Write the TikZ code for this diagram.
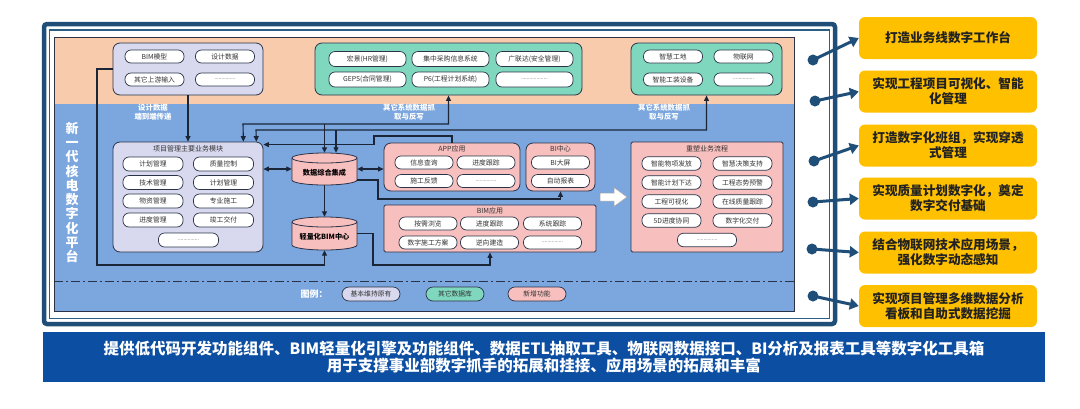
\documentclass[tikz,border=0pt]{standalone}
\usepackage{fontspec}
\setmainfont{Noto Sans CJK SC}
\usetikzlibrary{arrows.meta}
\definecolor{navy}{HTML}{1F4E79}
\definecolor{framec}{HTML}{2B5F86}
\definecolor{peach}{HTML}{F8CBAD}
\definecolor{bluep}{HTML}{7BA6DE}
\definecolor{lav}{HTML}{D8D9EF}
\definecolor{tealc}{HTML}{7FD8BE}
\definecolor{pinkc}{HTML}{F8BFBF}
\definecolor{edgec}{HTML}{2A3347}
\definecolor{txtc}{HTML}{333333}
\definecolor{connc}{HTML}{1A2538}
\definecolor{ybg}{HTML}{FFC000}
\definecolor{ytxt}{HTML}{222222}
\definecolor{bannerc}{HTML}{0B4EA2}
\begin{document}
\begin{tikzpicture}[x=1pt,y=-1pt,
 >={Triangle[length=5.5pt,width=5pt]},
 pill/.style={draw=edgec, fill=white, rounded corners=6pt, minimum width=59pt, minimum height=13pt, inner sep=0pt, line width=0.7pt, font=\fontsize{6.8}{8}\selectfont, text=txtc},
 dotpill/.style={pill, font=\fontsize{5}{6}\selectfont},
 grp/.style={draw=edgec, line width=0.8pt, rounded corners=7pt, inner sep=0pt},
 sqgrp/.style={draw=edgec, line width=0.8pt, rounded corners=1.5pt, inner sep=0pt},
 ttl/.style={font=\fontsize{7}{8}\selectfont, text=txtc, inner sep=0pt},
 wlab/.style={font=\bfseries\fontsize{7.4}{9.5}\selectfont, text=white, align=center, inner sep=0pt},
 cyltxt/.style={font=\bfseries\fontsize{7.2}{8}\selectfont, text=black, inner sep=0pt},
 conn/.style={draw=connc, line width=1.1pt},
 ybox/.style={fill=ybg, rounded corners=6pt, minimum width=178pt, minimum height=42pt, inner sep=0pt, align=center, font=\bfseries\fontsize{12.6}{15}\selectfont, text=ytxt},
 ydot/.style={circle, fill=navy, minimum size=11pt, inner sep=0pt},
 yarr/.style={draw=navy, line width=3pt, -{Triangle[length=9pt,width=11pt]}},
 cylb/.style={draw=edgec, line width=0.8pt},
]
\fill[white] (0,0) rectangle (1080,408);
\useasboundingbox (0,0) rectangle (1080,408);

% frame
\draw[navy, line width=4.5pt, rounded corners=3pt] (44,24) rectangle (835,324);
\draw[framec, line width=1.3pt] (49.5,30) rectangle (829.5,318.5);
\fill[peach] (54,37) rectangle (794,104);
\fill[bluep] (54,104) rectangle (794,311);
\draw[edgec, line width=0.6pt] (54,37) rectangle (794,311);
\draw[edgec, line width=0.8pt, dash pattern=on 9pt off 3pt on 2pt off 3pt] (54,281) -- (794,281);

% vertical title
\node[align=center, font=\bfseries\fontsize{13}{14.3}\selectfont, text=white, inner sep=0pt] (vt) at (72,192.5) {新\\一\\代\\核\\电\\数\\字\\化\\平\\台};

% top groups
\node[grp, fill=lav, minimum width=150pt, minimum height=52pt] (up) at (188,69) {};
\node[pill] (u1) at (154.5,56.5) {BIM模型};
\node[pill] (u2) at (225,56.5) {设计数据};
\node[pill] (u3) at (154.5,79.5) {其它上游输入};
\node[dotpill] (u4) at (225,79.5) {...............};

\node[grp, fill=tealc, minimum width=267pt, minimum height=52pt] (mid) at (448.5,69) {};
\node[pill, minimum width=77pt, minimum height=15pt] (m1) at (367.5,59) {宏景(HR管理)};
\node[pill, minimum width=77pt, minimum height=15pt] (m2) at (450.5,59) {集中采购信息系统};
\node[pill, minimum width=77pt, minimum height=15pt] (m3) at (534.5,59) {广联达(安全管理)};
\node[pill, minimum width=77pt, minimum height=15pt] (m4) at (367.5,79.5) {GEPS(合同管理)};
\node[pill, minimum width=77pt, minimum height=15pt] (m5) at (450.5,79.5) {P6(工程计划系统)};
\node[dotpill, minimum width=77pt, minimum height=15pt] (m6) at (534.5,79.5) {...................};

\node[grp, fill=tealc, minimum width=151pt, minimum height=52pt] (rt) at (706.5,69) {};
\node[pill] (r1) at (673,56.5) {智慧工地};
\node[pill] (r2) at (743.5,56.5) {物联网};
\node[pill] (r3) at (673,79.5) {智能工装设备};
\node[dotpill] (r4) at (743.5,79.5) {...............};

% white labels
\node[wlab] (l1) at (153,112) {设计数据\\端到端传递};
\node[wlab] (l2) at (409,112) {其它系统数据抓\\取与反写};
\node[wlab] (l3) at (664,112) {其它系统数据抓\\取与反写};

% project management module
\node[grp, fill=lav, minimum width=150pt, minimum height=110pt] (pm) at (188,197) {};
\node[ttl] (pmt) at (188,148.5) {项目管理主要业务模块};
\node[pill, minimum width=60pt, minimum height=14pt] (p1) at (153,164) {计划管理};
\node[pill, minimum width=60pt, minimum height=14pt] (p2) at (223.5,164) {质量控制};
\node[pill, minimum width=60pt, minimum height=14pt] (p3) at (153,182.5) {技术管理};
\node[pill, minimum width=60pt, minimum height=14pt] (p4) at (223.5,182.5) {计划管理};
\node[pill, minimum width=60pt, minimum height=14pt] (p5) at (153,201) {物资管理};
\node[pill, minimum width=60pt, minimum height=14pt] (p6) at (223.5,201) {专业施工};
\node[pill, minimum width=60pt, minimum height=14pt] (p7) at (153,220) {进度管理};
\node[pill, minimum width=60pt, minimum height=14pt] (p8) at (223.5,220) {竣工交付};
\node[dotpill, minimum width=60pt, minimum height=14pt] (p9) at (188.5,240) {...............};

% cylinders
\fill[pinkc] (292,158) rectangle (357,180);
\fill[pinkc] (324.5,180) ellipse[x radius=32.5pt, y radius=5pt];
\draw[cylb] (292,158) -- (292,180) arc[start angle=180, end angle=360, x radius=32.5pt, y radius=5pt] -- (357,158);
\draw[cylb, fill=pinkc] (324.5,158) ellipse[x radius=32.5pt, y radius=5pt];
\node[minimum width=65pt, minimum height=32pt, inner sep=0pt] (db) at (324.5,169) {};
\node[cyltxt] (dbt) at (324.5,173) {数据综合集成};

\fill[pinkc] (292,222) rectangle (357,245);
\fill[pinkc] (324.5,245) ellipse[x radius=32.5pt, y radius=5pt];
\draw[cylb] (292,222) -- (292,245) arc[start angle=180, end angle=360, x radius=32.5pt, y radius=5pt] -- (357,222);
\draw[cylb, fill=pinkc] (324.5,222) ellipse[x radius=32.5pt, y radius=5pt];
\node[minimum width=65pt, minimum height=33pt, inner sep=0pt] (bimc) at (324.5,233.5) {};
\node[cyltxt] (bimct) at (324.5,237) {轻量化BIM中心};

% APP / BI
\node[grp, fill=pinkc, minimum width=136pt, minimum height=48pt] (app) at (452,167) {};
\node[ttl] (appt) at (452,149) {APP应用};
\node[pill, minimum width=58pt] (a1) at (424,162.5) {信息查询};
\node[pill, minimum width=58pt] (a2) at (486,162.5) {进度跟踪};
\node[pill, minimum width=58pt] (a3) at (424,181) {施工反馈};
\node[dotpill, minimum width=58pt] (a4) at (486,181) {...............};

\node[grp, fill=pinkc, minimum width=69pt, minimum height=48pt] (bi) at (560.5,167) {};
\node[ttl] (bit) at (560.5,149) {BI中心};
\node[pill, minimum width=58pt] (b1) at (560.5,162.5) {BI大屏};
\node[pill, minimum width=58pt] (b2) at (560.5,181) {自动报表};

% BIM app
\node[sqgrp, fill=pinkc, minimum width=212pt, minimum height=47pt] (bimapp) at (490,228.5) {};
\node[ttl] (bimappt) at (490,210.5) {BIM应用};
\node[pill, minimum width=58pt] (c1) at (428,223.5) {按需浏览};
\node[pill, minimum width=58pt] (c2) at (489.5,223.5) {进度跟踪};
\node[pill, minimum width=58pt] (c3) at (552.5,223.5) {系统跟踪};
\node[pill, minimum width=58pt] (c4) at (428,242.5) {数字施工方案};
\node[pill, minimum width=58pt] (c5) at (489.5,242.5) {逆向建造};
\node[dotpill, minimum width=58pt] (c6) at (552.5,242.5) {...............};

% flow
\node[sqgrp, fill=pinkc, minimum width=152pt, minimum height=110pt] (flow) at (707,197) {};
\node[ttl] (flowt) at (707,149) {重塑业务流程};
\node[pill, minimum height=13.5pt] (f1) at (671.5,163.5) {智能物项发放};
\node[pill, minimum height=13.5pt] (f2) at (742.5,163.5) {智慧决策支持};
\node[pill, minimum height=13.5pt] (f3) at (671.5,182.5) {智能计划下达};
\node[pill, minimum height=13.5pt] (f4) at (742.5,182.5) {工程态势预警};
\node[pill, minimum height=13.5pt] (f5) at (671.5,201.5) {工程可视化};
\node[pill, minimum height=13.5pt] (f6) at (742.5,201.5) {在线质量跟踪};
\node[pill, minimum height=13.5pt] (f7) at (671.5,220.5) {5D进度协同};
\node[pill, minimum height=13.5pt] (f8) at (742.5,220.5) {数字化交付};
\node[dotpill, minimum height=13.5pt] (f9) at (707,240) {...............};

% white block arrow
\draw[fill=white, draw=gray!70, line width=0.5pt] (600,193) -- (614,193) -- (614,187.5) -- (627,197) -- (614,206.5) -- (614,201) -- (600,201) -- cycle;

% connectors
\draw[conn,->] (up.south) -- (pm.north);
\draw[conn,->] (up.west) -| (97,265) -| (bimc.south);
\draw[conn,<->] (mid.south) |- (243,124) -- ([xshift=-20pt]pm.north east);
\draw[conn,->] (324.5,124) -- (db.north);
\draw[conn,<->] (rt.south) |- (256,130) -- ([xshift=-7pt]pm.north east);
\draw[conn,->] (336,130) -- ([xshift=11.5pt]db.north);
\draw[conn,->] (app.north) |- (374,136) |- ([yshift=-3pt]pm.north east);
\draw[conn,<->] (db.west) -- (db.west -| pm.east);
\draw[conn,<->] (db.east) -- (db.east -| app.west);
\draw[conn,->] (db.south) -- (bimc.north);
\draw[conn,->] ([yshift=-11pt]db.east) -| (378,199) -| (bi.south);
\draw[conn,->] (bimc.east) -| (373,265) -| (bimapp.south);

% legend
\node[wlab, font=\bfseries\fontsize{9}{10}\selectfont] (lg) at (314,294) {图例：};
\node[pill, fill=lav, minimum width=58pt, minimum height=14pt, rounded corners=7pt] (lg1) at (371,294) {基本维持原有};
\node[pill, fill=tealc, minimum width=58pt, minimum height=14pt, rounded corners=7pt] (lg2) at (455,294) {其它数据库};
\node[pill, fill=pinkc, minimum width=58pt, minimum height=14pt, rounded corners=7pt] (lg3) at (537,294) {新增功能};

% right yellow boxes
\node[ybox] (y1) at (948,38) {打造业务线数字工作台};
\node[ybox] (y2) at (948,91.5) {实现工程项目可视化、智能\\化管理};
\node[ybox] (y3) at (948,145.5) {打造数字化班组，实现穿透\\式管理};
\node[ybox] (y4) at (948,198.5) {实现质量计划数字化，奠定\\数字交付基础};
\node[ybox] (y5) at (948,252.5) {结合物联网技术应用场景，\\强化数字动态感知};
\node[ybox] (y6) at (948,306) {实现项目管理多维数据分析\\看板和自助式数据挖掘};

\node[ydot] (d1) at (813,60) {};
\node[ydot] (d2) at (815,101) {};
\node[ydot] (d3) at (814,161) {};
\node[ydot] (d4) at (813,202) {};
\node[ydot] (d5) at (812,249) {};
\node[ydot] (d6) at (813,296) {};
\draw[yarr] (d1.center) -- (y1.west);
\draw[yarr] (d2.center) -- (y2.west);
\draw[yarr] (d3.center) -- (y3.west);
\draw[yarr] (d4.center) -- (y4.west);
\draw[yarr] (d5.center) -- (y5.west);
\draw[yarr] (d6.center) -- (y6.west);

% banner
\node[fill=bannerc, minimum width=1002pt, minimum height=50pt, inner sep=0pt, align=center, text=white, font=\bfseries\fontsize{15.5}{17}\selectfont] (banner) at (544,357) {提供低代码开发功能组件、BIM轻量化引擎及功能组件、数据ETL抽取工具、物联网数据接口、BI分析及报表工具等数字化工具箱\\用于支撑事业部数字抓手的拓展和挂接、应用场景的拓展和丰富};
\end{tikzpicture}
\end{document}
